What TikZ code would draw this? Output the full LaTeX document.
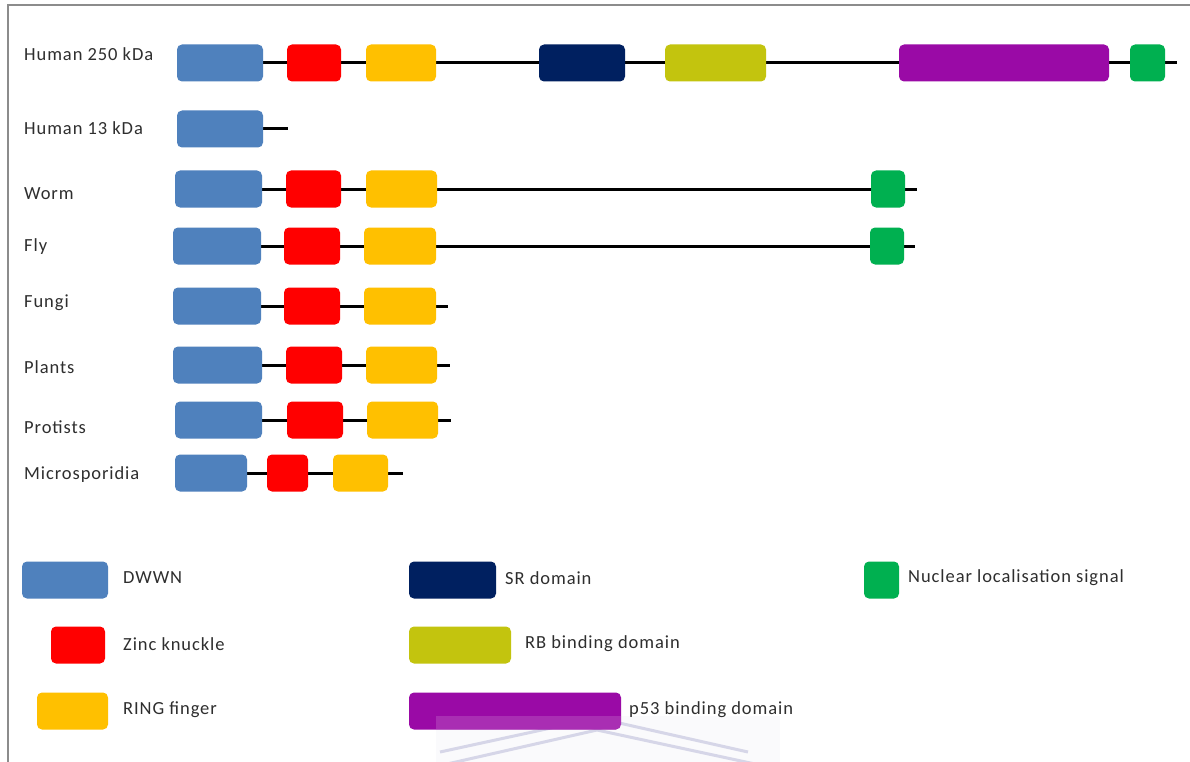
\documentclass[tikz,border=0pt]{standalone}
\usepackage{fontspec}
\setmainfont{Carlito}[LetterSpace=5]
\definecolor{cdwwn}{HTML}{4F81BD}
\definecolor{czinc}{HTML}{FF0000}
\definecolor{cring}{HTML}{FFC000}
\definecolor{csr}{HTML}{002060}
\definecolor{crb}{HTML}{C3C40E}
\definecolor{cp}{HTML}{9A0AA6}
\definecolor{cnls}{HTML}{00B050}
\definecolor{cframe}{HTML}{8C8C8C}
\definecolor{cwm}{HTML}{D6D6E8}
\tikzset{
  dom/.style={draw=none,rounded corners=5pt,inner sep=0pt,minimum height=37pt},
  link/.style={line width=3pt,black},
  lbl/.style={anchor=west,inner sep=0pt,font=\fontsize{18.5}{20}\selectfont,text=black!82},
}
\newcommand\dombox[5]{\node[dom,fill=#5,minimum width={(#3-#2)*1pt}] (#1) at ({(#2+#3)/2},#4) {};}
\begin{document}
\begin{tikzpicture}[x=1pt,y=-1pt]
\useasboundingbox (0,0) rectangle (1190,762);
\fill[white] (0,0) rectangle (1190,762);
% frame
\draw[cframe,line width=2pt] (8,762) -- (8,5) -- (1190,5);
% watermark
\fill[cwm,opacity=0.12] (436,716) rectangle (780,762);
\draw[cwm,line width=3pt] (440,752) -- (597,718) -- (748,752);
\draw[cwm,line width=3pt] (447,764) -- (597,730) -- (755,764);
% row labels
\node[lbl] (t1) at (24,54) {Human 250 kDa};
\node[lbl] (t2) at (24,128) {Human 13 kDa};
\node[lbl] (t3) at (24,194) {Worm};
\node[lbl] (t4) at (24,247) {Fly};
\node[lbl] (t5) at (24,303) {Fungi};
\node[lbl] (t6) at (24,367) {Plants};
\node[lbl] (t7) at (24,427) {Protists};
\node[lbl] (t8) at (24,475) {Microsporidia};
% end coordinates
\coordinate (ae) at (1177,63);
\coordinate (be) at (288,129);
\coordinate (ce) at (917,189);
\coordinate (de) at (915,246);
\coordinate (ee) at (448,306);
\coordinate (fe) at (450,365);
\coordinate (ge) at (451,420);
\coordinate (he) at (403,473);
% backbone lines (drawn first)
\draw[link] (177,63) -- (ae);
\draw[link] (177,129) -- (be);
\draw[link] (175,189) -- (ce);
\draw[link] (173,246) -- (de);
\draw[link] (173,306) -- (ee);
\draw[link] (173,365) -- (fe);
\draw[link] (175,420) -- (ge);
\draw[link] (175,473) -- (he);
% Human 250
\dombox{a1}{177}{263}{63}{cdwwn}
\dombox{a2}{287}{341}{63}{czinc}
\dombox{a3}{366}{436}{63}{cring}
\dombox{a4}{539}{625}{63}{csr}
\dombox{a5}{665}{766}{63}{crb}
\dombox{a6}{899}{1109}{63}{cp}
\dombox{a7}{1130}{1165}{63}{cnls}
% Human 13
\dombox{b1}{177}{263}{129}{cdwwn}
% Worm
\dombox{c1}{175}{262}{189}{cdwwn}
\dombox{c2}{286}{341}{189}{czinc}
\dombox{c3}{366}{437}{189}{cring}
\dombox{c4}{871}{905}{189}{cnls}
% Fly
\dombox{d1}{173}{261}{246}{cdwwn}
\dombox{d2}{284}{340}{246}{czinc}
\dombox{d3}{364}{436}{246}{cring}
\dombox{d4}{870}{904}{246}{cnls}
% Fungi
\dombox{e1}{173}{261}{306}{cdwwn}
\dombox{e2}{284}{340}{306}{czinc}
\dombox{e3}{364}{436}{306}{cring}
% Plants
\dombox{f1}{173}{262}{365}{cdwwn}
\dombox{f2}{286}{342}{365}{czinc}
\dombox{f3}{366}{437}{365}{cring}
% Protists
\dombox{g1}{175}{262}{420}{cdwwn}
\dombox{g2}{287}{343}{420}{czinc}
\dombox{g3}{367}{438}{420}{cring}
% Microsporidia
\dombox{h1}{175}{247}{473}{cdwwn}
\dombox{h2}{267}{308}{473}{czinc}
\dombox{h3}{333}{388}{473}{cring}
% legend
\dombox{k1}{22}{108}{580}{cdwwn}
\dombox{k2}{51}{105}{645}{czinc}
\dombox{k3}{37}{108}{711}{cring}
\dombox{k4}{409}{496}{580}{csr}
\dombox{k5}{409}{511}{645}{crb}
\dombox{k6}{409}{621}{711}{cp}
\dombox{k7}{864}{899}{580}{cnls}
\node[lbl] (m1) at (123,578) {DWWN};
\node[lbl] (m2) at (123,644) {Zinc knuckle};
\node[lbl] (m3) at (123,710) {RING finger};
\node[lbl] (m4) at (505,578) {SR domain};
\node[lbl] (m5) at (525,644) {RB binding domain};
\node[lbl] (m6) at (629,710) {p53 binding domain};
\node[lbl] (m7) at (908,578) {Nuclear localisation signal};
% watermark overlay on p53 box
\fill[white,opacity=0.15] (436,716) rectangle (621,729);
\end{tikzpicture}
\end{document}
